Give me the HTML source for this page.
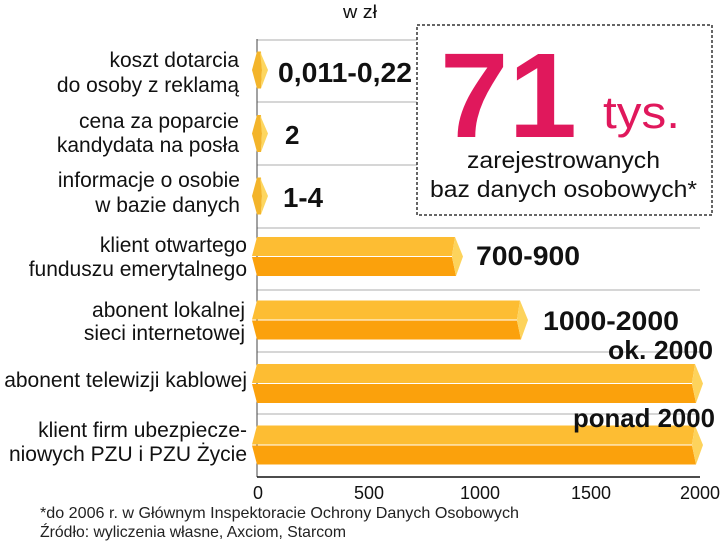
<!DOCTYPE html>
<html><head><meta charset="utf-8"><style>
html,body{margin:0;padding:0;background:#fff;}
svg{display:block;}
text{font-family:"Liberation Sans",sans-serif;}
</style></head><body>
<svg width="720" height="543" viewBox="0 0 720 543" xmlns="http://www.w3.org/2000/svg">
<rect width="720" height="543" fill="#fff"/>
<!-- gridlines -->
<g stroke="#c9c9c9" stroke-width="1.5">
<line x1="257" y1="40" x2="700" y2="40"/>
<line x1="257" y1="102" x2="700" y2="102"/>
<line x1="257" y1="165" x2="700" y2="165"/>
<line x1="257" y1="228" x2="700" y2="228"/>
<line x1="257" y1="290" x2="700" y2="290"/>
<line x1="257" y1="352" x2="700" y2="352"/>
<line x1="257" y1="414" x2="700" y2="414"/>
</g>
<!-- axes -->
<line x1="257" y1="39" x2="257" y2="477" stroke="#444" stroke-width="1"/>
<line x1="257" y1="477" x2="700" y2="477" stroke="#111" stroke-width="1.5"/>

<!-- diamonds rows 1-3 -->
<g>
<polygon points="257,51.5 252,70 257,88.5 261,88.5 262,70 261,51.5" fill="#F3B42A"/>
<polygon points="260,51.5 268,70 261,88.5 262,70" fill="#FDD660"/>
<polygon points="257,115 252,133.5 257,152 261,152 262,133.5 261,115" fill="#F3B42A"/>
<polygon points="260,115 268,133.5 261,152 262,133.5" fill="#FDD660"/>
<polygon points="257,177.5 252,196 257,214.5 261,214.5 262,196 261,177.5" fill="#F3B42A"/>
<polygon points="260,177.5 268,196 261,214.5 262,196" fill="#FDD660"/>
</g>

<!-- bars -->
<g>
<!-- row 4 cy=256.5 R=455 -->
<polygon points="257,237 455,237 452,256 252,256" fill="#FDBD33"/>
<polygon points="252,257 452,257 456,276 257,276" fill="#FBA10C"/>
<polygon points="455,237 463,256.5 456,276 452,256.5" fill="#FDD35C"/>
<!-- row 5 cy=320 R=520 -->
<polygon points="257,300.5 520,300.5 517,319.5 252,319.5" fill="#FDBD33"/>
<polygon points="252,320.5 517,320.5 521,339.5 257,339.5" fill="#FBA10C"/>
<polygon points="520,300.5 528,320 521,339.5 517,320" fill="#FDD35C"/>
<!-- row 6 cy=383.5 R=695 -->
<polygon points="257,364 695,364 692,383 252,383" fill="#FDBD33"/>
<polygon points="252,384 692,384 696,403 257,403" fill="#FBA10C"/>
<polygon points="695,364 703,383.5 696,403 692,383.5" fill="#FDD35C"/>
<!-- row 7 cy=445 R=695 -->
<polygon points="257,425.5 695,425.5 692,444.5 252,444.5" fill="#FDBD33"/>
<polygon points="252,445.5 692,445.5 696,464.5 257,464.5" fill="#FBA10C"/>
<polygon points="695,425.5 703,445 696,464.5 692,445" fill="#FDD35C"/>
</g>

<!-- box -->
<rect x="417" y="25" width="295" height="190" fill="#fff" stroke="#333" stroke-width="1.5" stroke-dasharray="3,2"/>
<text x="440" y="137" font-size="121" font-weight="bold" fill="#E0185C" textLength="137" lengthAdjust="spacingAndGlyphs">71</text>
<text x="603" y="128" font-size="45" fill="#E0185C" textLength="77" lengthAdjust="spacingAndGlyphs">tys.</text>
<text x="467" y="168" font-size="23" fill="#111" textLength="193" lengthAdjust="spacingAndGlyphs">zarejestrowanych</text>
<text x="430" y="197" font-size="23" fill="#111" textLength="267" lengthAdjust="spacingAndGlyphs">baz danych osobowych*</text>

<!-- unit -->
<text x="343" y="18" font-size="18" fill="#111" textLength="34" lengthAdjust="spacingAndGlyphs">w zł</text>

<!-- category labels -->
<g font-size="21" fill="#111" text-anchor="end">
<text x="239" y="67">koszt dotarcia</text>
<text x="239" y="92">do osoby z reklamą</text>
<text x="239" y="128">cena za poparcie</text>
<text x="239" y="152">kandydata na posła</text>
<text x="240" y="187">informacje o osobie</text>
<text x="240" y="212">w bazie danych</text>
<text x="247" y="252">klient otwartego</text>
<text x="247" y="276">funduszu emerytalnego</text>
<text x="245" y="317">abonent lokalnej</text>
<text x="245" y="340">sieci internetowej</text>
<text x="247" y="387">abonent telewizji kablowej</text>
<text x="247" y="437">klient firm ubezpiecze-</text>
<text x="247" y="461">niowych PZU i PZU Życie</text>
</g>

<!-- value labels -->
<g font-weight="bold" fill="#111">
<text x="278" y="82" font-size="28" textLength="134" lengthAdjust="spacingAndGlyphs">0,011-0,22</text>
<text x="285" y="144" font-size="26">2</text>
<text x="283" y="207" font-size="28" textLength="40" lengthAdjust="spacingAndGlyphs">1-4</text>
<text x="476" y="265" font-size="27" textLength="104" lengthAdjust="spacingAndGlyphs">700-900</text>
<text x="543" y="330" font-size="27" textLength="136" lengthAdjust="spacingAndGlyphs">1000-2000</text>
<text x="608" y="359" font-size="26" textLength="105" lengthAdjust="spacingAndGlyphs">ok. 2000</text>
<text x="573" y="427" font-size="26" textLength="142" lengthAdjust="spacingAndGlyphs">ponad 2000</text>
</g>

<!-- tick labels -->
<g font-size="18" fill="#111" text-anchor="middle">
<text x="258" y="499">0</text>
<text x="369" y="499">500</text>
<text x="480" y="499">1000</text>
<text x="591" y="499">1500</text>
<text x="700" y="499">2000</text>
</g>

<!-- footnotes -->
<text x="40" y="518" font-size="16" fill="#222" textLength="479" lengthAdjust="spacingAndGlyphs">*do 2006 r. w Głównym Inspektoracie Ochrony Danych Osobowych</text>
<text x="40" y="537" font-size="16" fill="#222" textLength="306" lengthAdjust="spacingAndGlyphs">Źródło: wyliczenia własne, Axciom, Starcom</text>
</svg>
</body></html>
